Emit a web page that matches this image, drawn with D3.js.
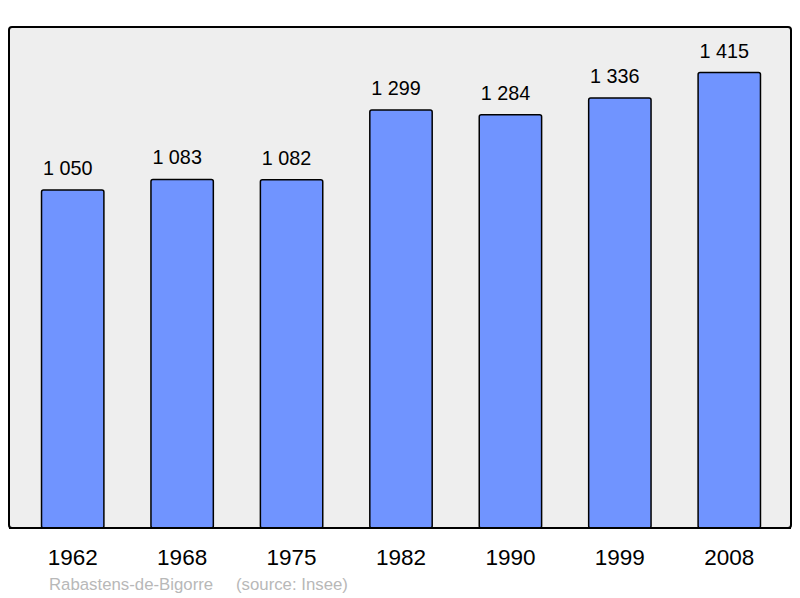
<!DOCTYPE html>
<html>
<head>
<meta charset="utf-8">
<script src="https://cdn.jsdelivr.net/npm/d3@7"></script>
<style>
  body { margin: 0; background: #fff; }
  text { font-family: "Liberation Sans", Arial, sans-serif; }
</style>
</head>
<body>
<div id="chart"></div>
<script>
// data
const years = ['1962', '1968', '1975', '1982', '1990', '1999', '2008'];
const population = [1050, 1083, 1082, 1299, 1284, 1336, 1415];
const commune = 'Rabastens-de-Bigorre';
const source = '(source: Insee)';

const width = 800, height = 598;
const plot = { left: 9, top: 27, right: 791, bottom: 528 };

const svg = d3.select('#chart')
    .append('svg')
    .attr('width', width)
    .attr('height', height);

// frame
svg.append('rect')
    .attr('x', plot.left)
    .attr('y', plot.top)
    .attr('width', plot.right - plot.left)
    .attr('height', plot.bottom - plot.top)
    .attr('rx', 3)
    .attr('fill', '#eeeeee')
    .attr('stroke', '#000')
    .attr('stroke-width', 2);

const x = d3.scaleBand()
    .domain(years)
    .range([18, 784])
    .paddingInner(0.43)
    .paddingOuter(0.215);

const y = d3.scaleLinear()
    .domain([0, d3.max(population) * 1.1])
    .range([plot.bottom, plot.top]);

const data = years.map((yr, i) => ({ year: yr, value: population[i] }));

// bars
svg.append('g')
    .selectAll('rect')
    .data(data)
    .enter()
    .append('rect')
    .attr('x', d => x(d.year))
    .attr('y', d => y(d.value))
    .attr('width', x.bandwidth())
    .attr('height', d => plot.bottom - y(d.value))
    .attr('rx', 2)
    .attr('fill', '#7094ff')
    .attr('stroke', '#000')
    .attr('stroke-width', 1.5);

// value labels (sit a little left of the bar centre, as in the original)
const fmt = v => d3.format(',')(v).replace(/,/g, ' ');
svg.append('g')
    .selectAll('text')
    .data(data)
    .enter()
    .append('text')
    .attr('x', d => x(d.year) + x.bandwidth() / 2 - 5)
    .attr('y', d => y(d.value) - 15)
    .attr('text-anchor', 'middle')
    .attr('font-size', '19.8px')
    .attr('fill', '#000')
    .text(d => fmt(d.value));

// redraw bottom edge of frame over bars
svg.append('line')
    .attr('x1', plot.left)
    .attr('x2', plot.right)
    .attr('y1', plot.bottom)
    .attr('y2', plot.bottom)
    .attr('stroke', '#000')
    .attr('stroke-width', 2);

// year labels
svg.append('g')
    .selectAll('text')
    .data(years)
    .enter()
    .append('text')
    .attr('x', d => x(d) + x.bandwidth() / 2)
    .attr('y', 565)
    .attr('text-anchor', 'middle')
    .attr('font-size', '22.5px')
    .attr('fill', '#000')
    .text(d => d);

// footer
svg.append('text')
    .attr('x', 49)
    .attr('y', 590)
    .attr('font-size', '16.8px')
    .attr('fill', '#b8b8b8')
    .text(commune);

svg.append('text')
    .attr('x', 236)
    .attr('y', 590)
    .attr('font-size', '16.8px')
    .attr('fill', '#b8b8b8')
    .text(source);
</script>
</body>
</html>
